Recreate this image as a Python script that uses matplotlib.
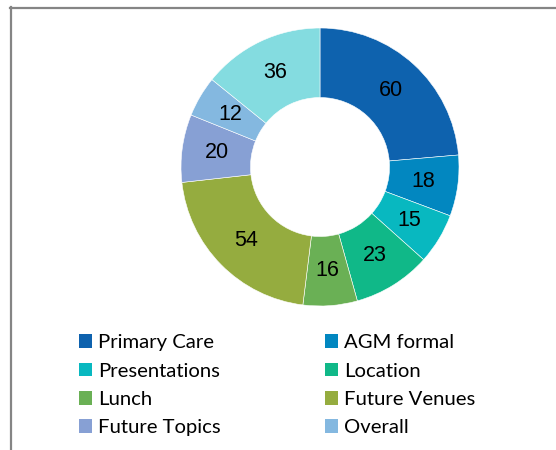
import matplotlib
matplotlib.use("Agg")
import matplotlib.pyplot as plt
from matplotlib.lines import Line2D

categories = ["Primary Care", "AGM formal", "Presentations", "Location", "Lunch",
              "Future Venues", "Future Topics", "Overall", "Other"]
values = [60, 18, 15, 23, 16, 54, 20, 12, 36]
colors = ["#0E62AE", "#0287C0", "#08B8C0", "#10B888", "#6AB055",
          "#95AC3F", "#87A0D4", "#84B8E0", "#84DCE0"]
title = "No. of Comments on each sector"

W, H = 556, 450
fig = plt.figure(figsize=(W / 100, H / 100), dpi=100)
fig.patch.set_facecolor("white")

# title (mostly cropped at the top in the reference)
fig.text(18 / W, 1 - 0.5 / H, title, fontsize=17, family="Lato", va="baseline", ha="left", color="#000000")

# chart border (left and top edges visible)
fig.add_artist(Line2D([10.5 / W, 10.5 / W], [0, 1 - 7 / H], transform=fig.transFigure, color="#858585", lw=1.6))
fig.add_artist(Line2D([10 / W, 1], [1 - 7.5 / H, 1 - 7.5 / H], transform=fig.transFigure, color="#858585", lw=1.6))

cx, cy, r = 320, 167, 139
ax = fig.add_axes([(cx - r) / W, (H - cy - r) / H, 2 * r / W, 2 * r / H])
wedges, texts = ax.pie(values, colors=colors, startangle=90, counterclock=False,
                       radius=1, wedgeprops=dict(width=0.5, edgecolor="white", linewidth=0.4),
                       labels=[str(v) for v in values], labeldistance=0.75,
                       textprops=dict(fontsize=15.5, family="Liberation Sans", color="#000000",
                                      ha="center", va="center"))
ax.set_xlim(-1, 1)
ax.set_ylim(-1, 1)
ax.axis("off")

order = [0, 2, 4, 6, 1, 3, 5, 7]
leg = fig.legend([wedges[i] for i in order], [categories[i] for i in order], ncol=2, loc="upper left",
                 bbox_to_anchor=(63 / W, 1 - 318 / H), frameon=False,
                 prop=dict(family="Lato", size=14.6),
                 handlelength=0.65, handleheight=0.65, handletextpad=0.3,
                 columnspacing=5.1, labelspacing=0.56, borderpad=0.3)
for h in leg.legend_handles:
    h.set_edgecolor("none")

fig.savefig("out.png", dpi=100)
